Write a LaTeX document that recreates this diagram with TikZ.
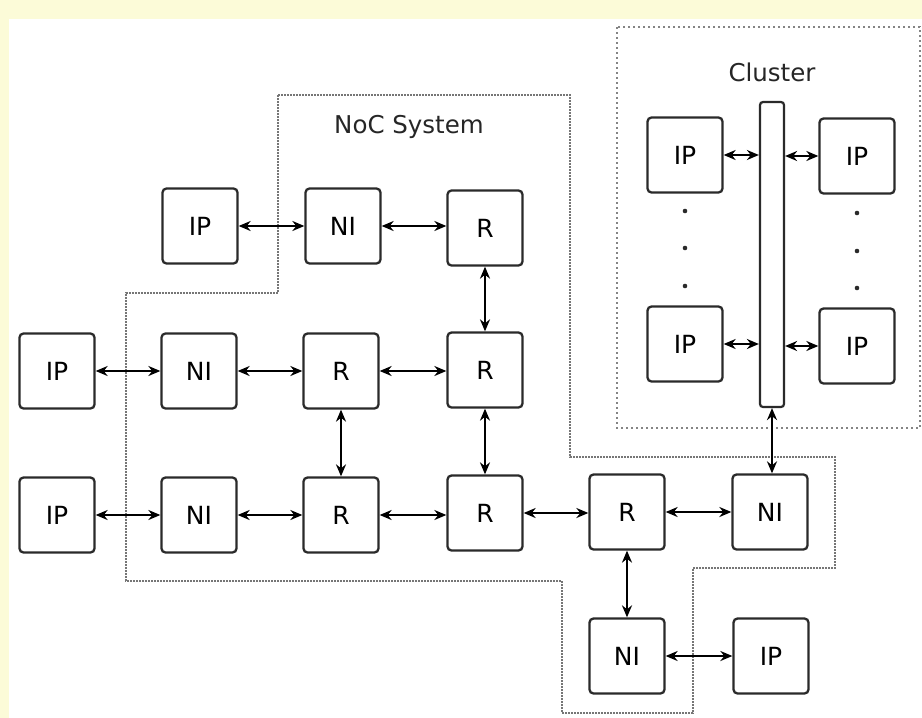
\documentclass[tikz,border=0pt]{standalone}
\usepackage{fontspec}
\setmainfont{DejaVu Sans}
\usetikzlibrary{arrows.meta}
\definecolor{pagebg}{HTML}{FCFBD8}
\definecolor{boxline}{HTML}{2A2A2A}
\definecolor{regionline}{HTML}{767676}
\tikzset{
  blk/.style={draw=boxline, line width=2.3pt, rounded corners=4pt, fill=white,
    minimum width=75pt, minimum height=75pt, inner sep=0pt, font=\fontsize{25}{27}\selectfont},
  link/.style={line width=2.5pt, {Stealth[length=12pt,width=10pt]}-{Stealth[length=12pt,width=10pt]}},
  region/.style={draw=regionline, line width=1.8pt, dash pattern=on 1.6pt off 1.4pt},
  clusterregion/.style={draw=regionline!90, line width=1.6pt, dash pattern=on 1.6pt off 3.4pt},
  lbl/.style={font=\fontsize{24.5}{26}\selectfont, text=black!85}
}
\begin{document}
\begin{tikzpicture}[x=1pt,y=-1pt]
% page background
\fill[pagebg] (0,0) rectangle (922,718);
\fill[white] (9,19) rectangle (922,718);
\useasboundingbox (0,0) rectangle (922,718);

% NoC system region
\draw[region] (278,95) -- (570,95) -- (570,457) -- (835,457) -- (835,568)
  -- (693,568) -- (693,713) -- (562,713) -- (562,581) -- (126,581)
  -- (126,293) -- (278,293) -- cycle;
\node[lbl] (noclbl) at (409,127) {NoC System};

% cluster region
\draw[clusterregion] (617,27) rectangle (920,428);
\node[lbl] (cllbl) at (772,72) {Cluster};

% row 1
\node[blk] (ip1) at (200,226) {IP};
\node[blk] (ni1) at (343,226) {NI};
\node[blk] (r1)  at (485,228) {R};
% row 2
\node[blk] (ip2) at (57,371) {IP};
\node[blk] (ni2) at (199,371) {NI};
\node[blk] (r2)  at (341,371) {R};
\node[blk] (r3)  at (485,370) {R};
% row 3
\node[blk] (ip3) at (57,515) {IP};
\node[blk] (ni3) at (199,515) {NI};
\node[blk] (r4)  at (341,515) {R};
\node[blk] (r5)  at (485,513) {R};
\node[blk] (r6)  at (627,512) {R};
\node[blk] (ni4) at (770,512) {NI};
% row 4
\node[blk] (ni5) at (627,656) {NI};
\node[blk] (ip4) at (771,656) {IP};

% cluster contents
\node[draw=boxline, line width=2.2pt, rounded corners=3pt, fill=white,
  minimum width=24pt, minimum height=305pt, inner sep=0pt] (bus) at (772,254.5) {};
\node[blk] (cl1) at (685,155) {IP};
\node[blk] (cr1) at (857,156) {IP};
\node[blk] (cl2) at (685,344) {IP};
\node[blk] (cr2) at (857,346) {IP};
\foreach \yy in {211,248,286} \fill[boxline] (685,\yy) circle (2.3);
\foreach \yy in {213,251,288} \fill[boxline] (857,\yy) circle (2.3);

% links
\draw[link] (ip1) -- (ni1);
\draw[link] (ni1) -- (ni1 -| r1.west);
\draw[link] (r1) -- (r3);
\draw[link] (ip2) -- (ni2);
\draw[link] (ni2) -- (r2);
\draw[link] (r2) -- (r2 -| r3.west);
\draw[link] (r2) -- (r4);
\draw[link] (r3) -- (r5);
\draw[link] (ip3) -- (ni3);
\draw[link] (ni3) -- (r4);
\draw[link] (r4) -- (r4 -| r5.west);
\draw[link] (r5) -- (r5 -| r6.west);
\draw[link] (r6) -- (ni4);
\draw[link] (r6) -- (ni5);
\draw[link] (ni5) -- (ip4);
\draw[link] (bus.south) -- (bus.south |- ni4.north);
\draw[link] (cl1) -- (cl1 -| bus.west);
\draw[link] (cr1 -| bus.east) -- (cr1);
\draw[link] (cl2) -- (cl2 -| bus.west);
\draw[link] (cr2 -| bus.east) -- (cr2);
\end{tikzpicture}
\end{document}
